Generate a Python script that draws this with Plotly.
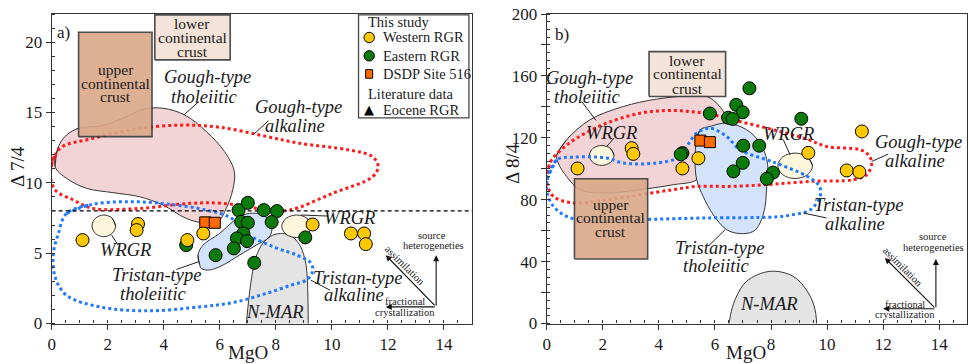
import plotly.graph_objects as go

# ---------------- data ----------------
# Panel a: MgO vs Delta 7/4
west_a_mgo = [1.10, 3.08, 3.03, 4.84, 5.41, 9.31, 10.68, 11.15, 11.21]
west_a_d74 = [5.93, 7.07, 6.64, 5.93, 6.40, 7.04, 6.40, 6.40, 5.64]
east_a_mgo = [6.67, 7.00, 7.57, 8.04, 7.85, 6.76, 7.00, 6.84, 6.61, 6.97, 6.50, 5.85, 7.23, 9.05, 4.80]
east_a_d74 = [8.06, 8.58, 8.06, 7.99, 7.21, 7.23, 7.16, 6.40, 6.05, 5.86, 5.34, 4.86, 4.31, 6.12, 5.57]
dsdp_a_mgo = [5.48, 5.82]
dsdp_a_d74 = [7.19, 7.16]

# Panel b: MgO vs Delta 8/4
west_b_mgo = [1.10, 3.03, 3.09, 4.84, 5.41, 9.33, 10.70, 11.15, 11.24]
west_b_d84 = [100.2, 113.3, 109.6, 100.2, 106.8, 110.3, 98.9, 97.9, 124.1]
east_b_mgo = [7.23, 6.76, 6.99, 6.47, 6.63, 5.82, 9.08, 7.01, 7.58, 6.99, 6.66, 8.07, 7.85, 4.84, 4.78]
east_b_d84 = [152.0, 141.3, 136.5, 133.0, 132.2, 135.7, 132.3, 114.9, 114.9, 103.8, 98.3, 97.5, 93.5, 110.1, 109.3]
dsdp_b_mgo = [5.48, 5.82]
dsdp_b_d84 = [118.2, 117.2]

nhrl_d74 = 8.0   # dashed reference line, panel a

# Fields (outline vertices, MgO / isotope)
gtho_a_x = [0.12, 0.24, 0.53, 0.96, 1.72, 2.55, 3.26, 3.97, 4.74, 5.52, 6.17, 6.52, 6.46, 6.23, 5.93, 5.40, 4.80, 3.97, 3.14, 2.19, 1.24, 0.53]
gtho_a_y = [11.15, 12.57, 13.40, 13.88, 14.04, 14.59, 15.23, 15.30, 14.83, 13.64, 12.21, 10.79, 9.49, 8.18, 7.23, 7.16, 7.47, 8.42, 9.01, 9.30, 9.61, 10.32]
galk_a_x = [-0.05, 0.10, 0.40, 1.36, 2.90, 4.60, 6.00, 7.65, 8.84, 10.62, 11.45, 11.65, 11.45, 10.02, 8.48, 7.65, 6.10, 4.92, 3.14, 1.48, 0.77, 0.12]
galk_a_y = [10.70, 11.90, 12.60, 13.10, 13.80, 14.10, 13.95, 13.30, 12.81, 12.33, 11.86, 11.15, 10.43, 9.25, 8.06, 8.10, 8.54, 8.54, 8.18, 8.18, 8.78, 9.50]
talk_a_x = [0.53, 1.40, 2.70, 4.09, 5.52, 6.40, 6.94, 7.98, 8.70, 9.25, 9.31, 9.10, 8.50, 7.65, 6.50, 5.28, 3.41, 1.72, 0.53, 0.12, 0.06, 0.24]
talk_a_y = [7.83, 8.45, 8.66, 8.50, 8.06, 7.50, 6.40, 5.40, 4.90, 4.30, 3.70, 3.10, 2.70, 2.13, 1.50, 1.18, 0.90, 1.18, 2.00, 3.32, 4.98, 6.40]
ttho_a_x = [5.28, 5.22, 5.40, 5.99, 6.46, 6.82, 7.30, 7.71, 7.86, 7.77, 7.30, 6.70, 6.11, 5.63, 5.34]
ttho_a_y = [4.18, 4.86, 5.57, 6.40, 7.23, 7.71, 7.83, 7.47, 6.88, 6.16, 5.57, 4.86, 4.15, 3.80, 3.91]
nmar_a_x = [6.92, 7.03, 7.14, 7.29, 7.53, 7.89, 8.24, 8.60, 8.89, 9.07, 9.13, 9.16]
nmar_a_y = [-0.6, 1.66, 3.32, 4.74, 5.69, 6.28, 6.40, 6.16, 5.45, 4.27, 2.85, -0.6]
wrgr_a = [(1.86, 6.94, 0.42, 0.77), (8.74, 6.91, 0.53, 0.80)]      # centre x, centre y, half-width, half-height
ucc_a = (0.96, 3.58, 13.28, 20.70)                                   # x0, x1, y0, y1
lcc_a = (3.68, 6.37, 18.74, 21.94)

gtho_b_x = [0.36, 0.71, 1.54, 2.73, 3.92, 5.11, 5.71, 6.12, 6.36, 6.10, 5.80, 5.35, 4.52, 3.33, 2.14, 1.19, 0.71, 0.41]
gtho_b_y = [109.0, 118.7, 131.6, 140.2, 145.0, 147.1, 146.7, 141.3, 133.7, 122.0, 105.0, 92.9, 89.7, 86.5, 84.3, 86.5, 95.0, 103.7]
galk_b_x = [0.02, 0.15, 0.50, 1.07, 2.14, 3.33, 4.28, 5.11, 5.94, 6.89, 8.08, 9.30, 9.98, 11.17, 11.47, 11.59, 11.41, 10.93, 9.39, 7.85, 6.50, 5.35, 4.52, 3.33, 2.14, 0.95, 0.24, 0.02]
galk_b_y = [97.0, 105.0, 112.0, 119.8, 129.5, 135.9, 137.6, 137.0, 134.8, 130.5, 125.2, 119.0, 114.4, 112.3, 109.0, 103.7, 96.1, 92.9, 91.8, 89.7, 88.6, 88.6, 86.5, 83.2, 80.0, 77.9, 82.1, 90.0]
talk_b_x = [0.02, 0.36, 0.95, 2.14, 2.73, 3.92, 4.64, 4.99, 5.35, 5.82, 6.42, 6.89, 7.85, 8.33, 9.30, 9.73, 9.75, 9.40, 8.68, 8.08, 5.71, 3.33, 1.54, 0.71, 0.24, 0.02]
talk_b_y = [92.9, 105.8, 107.5, 106.9, 103.7, 103.7, 106.9, 114.4, 123.0, 126.2, 120.8, 112.3, 105.8, 102.6, 95.0, 88.6, 82.1, 73.5, 70.0, 68.8, 68.2, 67.1, 66.0, 69.2, 75.7, 84.3]
ttho_b_x = [5.35, 5.47, 5.82, 6.42, 7.13, 7.61, 7.85, 7.90, 7.85, 7.79, 7.61, 7.37, 6.89, 6.42, 5.94, 5.58, 5.35, 5.29]
ttho_b_y = [118.7, 125.2, 127.3, 129.5, 125.2, 116.6, 105.8, 92.9, 88.6, 75.7, 65.0, 59.5, 58.1, 60.6, 70.3, 82.1, 92.9, 105.8]
nmar_b_x = [6.46, 6.55, 6.72, 7.13, 7.96, 8.79, 9.33, 9.57, 9.64]
nmar_b_y = [-6.0, 5.0, 15.5, 27.3, 33.7, 30.5, 19.8, 9.0, -6.0]
wrgr_b = [(1.96, 108.6, 0.44, 6.45), (8.86, 101.9, 0.62, 8.2)]
ucc_b = (0.99, 3.60, 41.7, 93.5)
lcc_b = (3.65, 6.38, 146.7, 175.7)

# ---------------- styles / layout config ----------------
FONT = "Liberation Serif"
YEL, GRN, ORG = "#FFC800", "#0A7A0A", "#FF6A00"
PINK, LBLUE, GRAY, CREAM = "#F3D4D6", "#D3E3FB", "#E4E4E4", "#FDF5DC"
REDDOT, BLUEDOT = "#FF1A1A", "#1F78FF"
UCC, LCC = "#DBA888", "#F3E1D5"
AX = "#333333"
ITS = 18.5    # italic field label size
CRS = 15.5    # crust label size
SML = 10.5    # process arrow label size

W, H = 969, 364
dom_xa = [51.7 / W, 472.0 / W]
dom_xb = [546.7 / W, 967.3 / W]
dom_y = [1 - 323.5 / H, 1 - 14.0 / H]

fig = go.Figure()


def closed(xs, ys):
    return list(xs) + [xs[0], xs[1]], list(ys) + [ys[0], ys[1]]


def field(xs, ys, xa, ya, fill=None, line_color="#222", width=0.9, dash=None, close=True, smooth=1.0):
    if close:
        xs, ys = closed(xs, ys)
    fig.add_trace(go.Scatter(
        x=xs, y=ys, xaxis=xa, yaxis=ya, mode="lines",
        line=dict(color=line_color, width=width, shape="spline", smoothing=smooth, dash=dash),
        fill="toself" if fill else None, fillcolor=fill, hoverinfo="skip", showlegend=False))


def ellipse(e, xa, ya):
    cx, cy, rx, ry = e
    k = 0.7071
    xs = [cx + rx, cx + k * rx, cx, cx - k * rx, cx - rx, cx - k * rx, cx, cx + k * rx]
    ys = [cy, cy + k * ry, cy + ry, cy + k * ry, cy, cy - k * ry, cy - ry, cy - k * ry]
    field(xs, ys, xa, ya, fill=CREAM, width=0.9)


def box(b, xa, ya, color):
    x0, x1, y0, y1 = b
    fig.add_trace(go.Scatter(
        x=[x0, x1, x1, x0, x0], y=[y0, y0, y1, y1, y0], xaxis=xa, yaxis=ya, mode="lines",
        line=dict(color="#3A3A3A", width=1.6), fill="toself", fillcolor=color, opacity=0.9,
        hoverinfo="skip", showlegend=False))


def points(xs, ys, xa, ya, color, symbol="circle", size=13):
    fig.add_trace(go.Scatter(
        x=xs, y=ys, xaxis=xa, yaxis=ya, mode="markers",
        marker=dict(color=color, size=size, symbol=symbol, line=dict(color="black", width=1)),
        showlegend=False))


# ---- panel a
field(gtho_a_x, gtho_a_y, "x", "y", fill=PINK)
field(ttho_a_x, ttho_a_y, "x", "y", fill=LBLUE)
field(nmar_a_x, nmar_a_y, "x", "y", fill=GRAY, close=False, smooth=0.8)
for e in wrgr_a:
    ellipse(e, "x", "y")
field(galk_a_x, galk_a_y, "x", "y", line_color=REDDOT, width=3, dash="dot")
field(talk_a_x, talk_a_y, "x", "y", line_color=BLUEDOT, width=3, dash="dot")
fig.add_trace(go.Scatter(x=[0, 15], y=[nhrl_d74, nhrl_d74], mode="lines", xaxis="x", yaxis="y",
                         line=dict(color="black", width=1.3, dash="4px,3px"), hoverinfo="skip", showlegend=False))
box(ucc_a, "x", "y", UCC)
box(lcc_a, "x", "y", LCC)
points(east_a_mgo, east_a_d74, "x", "y", GRN)
points(dsdp_a_mgo, dsdp_a_d74, "x", "y", ORG, symbol="square", size=11)
points(west_a_mgo, west_a_d74, "x", "y", YEL)

# ---- panel b
field(gtho_b_x, gtho_b_y, "x2", "y2", fill=PINK)
field(ttho_b_x, ttho_b_y, "x2", "y2", fill=LBLUE)
field(nmar_b_x, nmar_b_y, "x2", "y2", fill=GRAY, close=False, smooth=1.0)
for e in wrgr_b:
    ellipse(e, "x2", "y2")
field(galk_b_x, galk_b_y, "x2", "y2", line_color=REDDOT, width=3, dash="dot")
field(talk_b_x, talk_b_y, "x2", "y2", line_color=BLUEDOT, width=3, dash="dot")
box(ucc_b, "x2", "y2", UCC)
box(lcc_b, "x2", "y2", LCC)
points(east_b_mgo, east_b_d84, "x2", "y2", GRN)
points(dsdp_b_mgo, dsdp_b_d84, "x2", "y2", ORG, symbol="square", size=11)
points(west_b_mgo, west_b_d84, "x2", "y2", YEL)

# ---------------- text labels ----------------
TXT = "#1a1a1a"
# (text, x, y, size, italic, angle)
labels_a = [
    ("a)", 0.42, 20.7, 17, False, 0),
    ("upper", 2.29, 18.03, CRS, False, 0), ("continental", 2.29, 17.08, CRS, False, 0), ("crust", 2.29, 16.13, CRS, False, 0),
    ("lower", 5.02, 21.35, CRS, False, 0), ("continental", 5.02, 20.36, CRS, False, 0), ("crust", 5.02, 19.33, CRS, False, 0),
    ("Gough-type", 5.57, 17.5, ITS, True, 0), ("tholeiitic", 5.45, 16.1, ITS, True, 0),
    ("Gough-type", 8.8, 15.37, ITS, True, 0), ("alkaline", 8.69, 14.04, ITS, True, 0),
    ("WRGR", 2.64, 5.22, ITS, True, 0), ("WRGR", 10.64, 7.47, ITS, True, 0),
    ("Tristan-type", 3.74, 3.44, ITS, True, 0), ("tholeiitic", 3.62, 2.13, ITS, True, 0),
    ("Tristan-type", 10.91, 3.27, ITS, True, 0), ("alkaline", 10.8, 2.01, ITS, True, 0),
    ("N-MAR", 7.98, 0.83, ITS, True, 0),
    ("source", 13.58, 6.28, SML, False, 0), ("heterogeneties", 13.64, 5.57, SML, False, 0),
    ("assimilation", 12.60, 4.10, SML, False, 45),
    ("fractional", 12.6, 1.54, SML, False, 0), ("crystallization", 12.6, 0.78, SML, False, 0),
]
labels_b = [
    ("b)", 0.53, 186.5, 17, False, 0),
    ("lower", 5.01, 169.9, CRS, False, 0), ("continental", 5.01, 161.3, CRS, False, 0), ("crust", 5.01, 152.1, CRS, False, 0),
    ("upper", 2.29, 76.8, CRS, False, 0), ("continental", 2.29, 68.2, CRS, False, 0), ("crust", 2.29, 59.2, CRS, False, 0),
    ("Gough-type", 1.54, 158.5, ITS, True, 0), ("tholeiitic", 1.46, 146.2, ITS, True, 0),
    ("WRGR", 2.32, 123.4, ITS, True, 0), ("WRGR", 8.62, 122.4, ITS, True, 0),
    ("Gough-type", 13.25, 117.0, ITS, True, 0), ("alkaline", 13.14, 105.2, ITS, True, 0),
    ("Tristan-type", 11.11, 76.8, ITS, True, 0), ("alkaline", 11.0, 64.5, ITS, True, 0),
    ("Tristan-type", 6.18, 48.8, ITS, True, 0), ("tholeiitic", 6.06, 37.0, ITS, True, 0),
    ("N-MAR", 7.94, 12.3, ITS, True, 0),
    ("source", 13.77, 55.9, SML, False, 0), ("heterogeneties", 13.79, 49.2, SML, False, 0),
    ("assimilation", 12.68, 36.6, SML, False, 45),
    ("fractional", 12.78, 12.3, SML, False, 0), ("crystallization", 12.78, 5.8, SML, False, 0),
]
# leader lines (x0, y0, x1, y1)
leaders_a = [(4.72, 14.83, 5.25, 15.77), (7.21, 13.45, 7.74, 14.42), (2.14, 6.28, 2.37, 5.57),
             (8.9, 7.71, 9.84, 7.64), (4.45, 3.84, 5.24, 4.39), (9.25, 3.08, 9.93, 2.37)]
leaders_b = [(1.25, 143.4, 1.76, 131.2), (2.14, 114.4, 2.40, 119.8), (8.44, 118.7, 8.68, 109.0),
             (11.59, 104.7, 12.18, 109.5), (9.15, 71.4, 9.98, 68.2), (5.76, 49.9, 6.36, 60.6)]
# process arrows: origin, tips
arrows_a = ((13.72, 1.18), [(13.72, 4.86), (11.92, 1.18), (11.92, 4.86)])
arrows_b = ((13.88, 9.5), [(13.88, 41.7), (12.0, 9.5), (12.06, 42.4)])

annotations = []
shapes = []
for labels, xr, yr in ((labels_a, "x", "y"), (labels_b, "x2", "y2")):
    for t, x, y, s, it, ang in labels:
        annotations.append(dict(text=f"<i>{t}</i>" if it else t, x=x, y=y, xref=xr, yref=yr, showarrow=False,
                                xanchor="center", yanchor="middle", textangle=ang,
                                font=dict(family=FONT, size=s, color=TXT)))
for leaders, xr, yr in ((leaders_a, "x", "y"), (leaders_b, "x2", "y2")):
    for x0, y0, x1, y1 in leaders:
        shapes.append(dict(type="line", xref=xr, yref=yr, x0=x0, y0=y0, x1=x1, y1=y1,
                           line=dict(color="#222", width=1)))
for (org, tips), xr, yr in ((arrows_a, "x", "y"), (arrows_b, "x2", "y2")):
    for tx, ty in tips:
        annotations.append(dict(text="", x=tx, y=ty, ax=org[0], ay=org[1], xref=xr, yref=yr, axref=xr, ayref=yr,
                                showarrow=True, arrowhead=2, arrowsize=1.1, arrowwidth=1.1, arrowcolor="#111"))

# ---------------- manual legend (panel a) ----------------
shapes.append(dict(type="rect", xref="x", yref="y", x0=10.95, x1=14.89, y0=14.61, y1=21.94,
                   line=dict(color="#444", width=1.3), fillcolor="white", layer="above"))
leg_sym_x, leg_txt_x, leg_head_x = 11.33, 11.74, 11.21
legend_rows = [("head", "This study", 21.4), (YEL, "Western RGR", 20.33), (GRN, "Eastern RGR", 19.03),
               ("sq", "DSDP Site 516", 17.74), ("head", "Literature data", 16.32), ("tri", "Eocene RGR", 15.18)]
for kind, txt, y in legend_rows:
    if kind == "head":
        annotations.append(dict(text=txt, x=leg_head_x, y=y, xref="x", yref="y", showarrow=False,
                                xanchor="left", yanchor="middle", font=dict(family=FONT, size=14.5, color=TXT)))
        continue
    if kind == "sq":
        shapes.append(dict(type="rect", xref="x", yref="y", xsizemode="pixel", ysizemode="pixel",
                           xanchor=leg_sym_x, yanchor=y, x0=-3.5, x1=3.5, y0=-4.3, y1=4.3,
                           fillcolor=ORG, line=dict(color="black", width=1), layer="above"))
    elif kind == "tri":
        annotations.append(dict(text="▲", x=leg_sym_x, y=y, xref="x", yref="y", showarrow=False,
                                xanchor="center", yanchor="middle", font=dict(family="DejaVu Sans", size=13, color="black")))
    else:
        shapes.append(dict(type="circle", xref="x", yref="y", xsizemode="pixel", ysizemode="pixel",
                           xanchor=leg_sym_x, yanchor=y, x0=-5.2, x1=5.2, y0=-5.2, y1=5.2,
                           fillcolor=kind, line=dict(color="black", width=1), layer="above"))
    annotations.append(dict(text=txt, x=leg_txt_x, y=y, xref="x", yref="y", showarrow=False,
                            xanchor="left", yanchor="middle", font=dict(family=FONT, size=14.5, color=TXT)))

# axis titles
annotations += [
    dict(text="MgO", x=248 / W, y=1 - 352 / H, xref="paper", yref="paper", showarrow=False,
         xanchor="center", yanchor="middle", font=dict(family=FONT, size=19, color=TXT)),
    dict(text="MgO", x=746 / W, y=1 - 352 / H, xref="paper", yref="paper", showarrow=False,
         xanchor="center", yanchor="middle", font=dict(family=FONT, size=19, color=TXT)),
    dict(text="Δ 7/4", x=18 / W, y=1 - 167 / H, xref="paper", yref="paper", showarrow=False, textangle=-90,
         xanchor="center", yanchor="middle", font=dict(family=FONT, size=19, color=TXT)),
    dict(text="Δ 8/4", x=512 / W, y=1 - 163 / H, xref="paper", yref="paper", showarrow=False, textangle=-90,
         xanchor="center", yanchor="middle", font=dict(family=FONT, size=19, color=TXT)),
]

axis_common = dict(showline=True, mirror=True, linecolor=AX, linewidth=1.2, showgrid=False, zeroline=False,
                   ticks="outside", ticklen=5, tickwidth=1.1, tickcolor=AX, automargin=False,
                   tickfont=dict(family=FONT, size=17, color=TXT))
xticks = [0, 2, 4, 6, 8, 10, 12, 14]
fig.update_layout(
    width=W, height=H, autosize=False, margin=dict(l=0, r=0, t=0, b=0),
    paper_bgcolor="white", plot_bgcolor="white", showlegend=False,
    xaxis=dict(domain=dom_xa, range=[0, 15], tickvals=xticks, anchor="y",
               minor=dict(dtick=0.5, tick0=0, ticks="inside", ticklen=3, tickcolor=AX), **axis_common),
    yaxis=dict(domain=dom_y, range=[0, 22], tickvals=[0, 5, 10, 15, 20], anchor="x",
               minor=dict(dtick=1, tick0=0, ticks="inside", ticklen=3, tickcolor=AX), **axis_common),
    xaxis2=dict(domain=dom_xb, range=[0, 15], tickvals=xticks, anchor="y2",
                minor=dict(dtick=0.5, tick0=0, ticks="inside", ticklen=3, tickcolor=AX), **axis_common),
    yaxis2=dict(domain=dom_y, range=[0, 200], tickvals=list(range(0, 201, 20)),
                ticktext=[str(v) if v % 40 == 0 else "" for v in range(0, 201, 20)], anchor="x2",
                minor=dict(dtick=5, tick0=0, ticks="inside", ticklen=3, tickcolor=AX), **axis_common),
    annotations=annotations, shapes=shapes,
)

fig.write_html("out.html", config={"displayModeBar": False},
               post_script="document.body.style.margin='0px';document.body.style.padding='0px';")
